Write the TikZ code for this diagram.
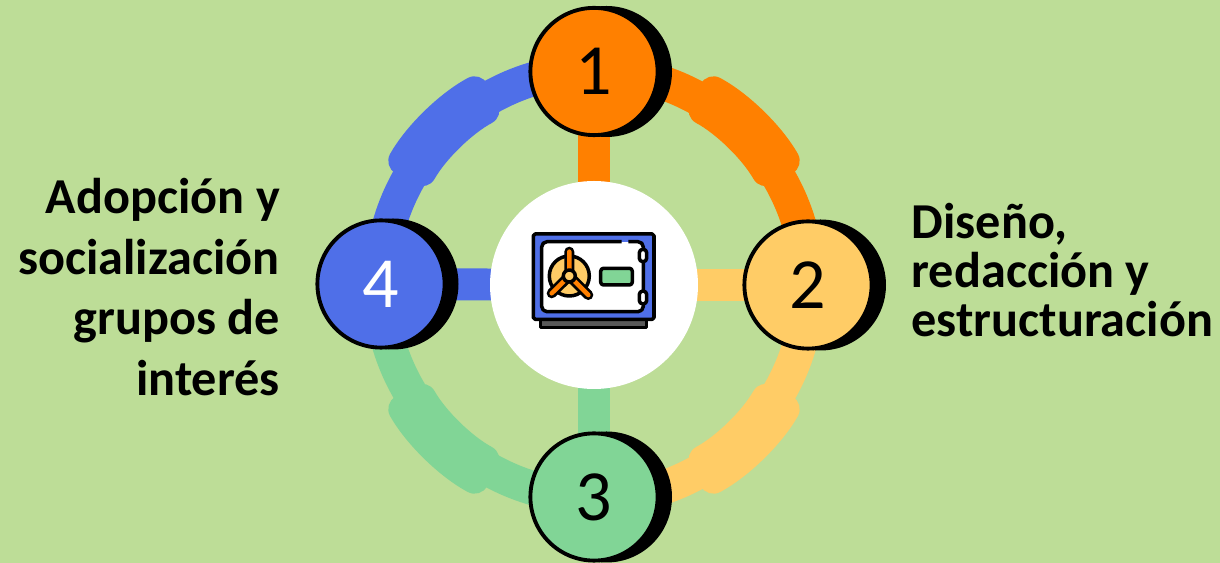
\documentclass[tikz,border=0pt]{standalone}
\usepackage{fontspec}
\setmainfont{Carlito}
\usetikzlibrary{calc}
\definecolor{fondo}{HTML}{BDDD97}
\definecolor{naranja}{HTML}{FF8000}
\definecolor{amarillo}{HTML}{FFCC66}
\definecolor{verde}{HTML}{81D596}
\definecolor{azul}{HTML}{4F6FE8}

\begin{document}
\begin{tikzpicture}[
	ring/.style={line width=9.7pt},
	spoke/.style={line width=9.1pt},
	thick seg/.style={rounded corners=4pt},
	shade disc/.style={circle,fill=black,inner sep=0pt,outer sep=0pt,minimum size=1.31cm},
	num/.style={circle,draw=black,line width=1.1pt,inner sep=0pt,minimum size=1.272cm,font=\fontsize{20.5}{24}\selectfont},
	lbl/.style={font=\fontsize{14.3}{13.9}\selectfont\bfseries,inner sep=0pt},
	icon/.style={draw=black,line width=1pt,line join=round}]
	\useasboundingbox (0,0) rectangle (12.2,5.63);
	\fill[fondo] (0,0) rectangle (12.2,5.63);
	%
	\coordinate (m) at (5.94,2.78);
	\coordinate (p1) at (5.94,4.915);
	\coordinate (p2) at (8.08,2.78);
	\coordinate (p3) at (5.94,0.66);
	\coordinate (p4) at (3.81,2.79);
	%
	\draw[ring,naranja] (p1) arc[start angle=90,end angle=0,radius=2.14];
	\draw[ring,amarillo] (p2) arc[start angle=0,end angle=-90,radius=2.14];
	\draw[ring,verde] (p3) arc[start angle=-90,end angle=-180,radius=2.14];
	\draw[ring,azul] (p4) arc[start angle=180,end angle=90,radius=2.14];
	%
	\fill[thick seg,naranja] ($(m)+(62:2.42)$) arc[start angle=62,end angle=29.4,radius=2.42] -- ($(m)+(29.4:1.91)$) arc[start angle=29.4,end angle=62,radius=1.91] -- cycle;
	\fill[thick seg,amarillo] ($(m)+(-62:2.42)$) arc[start angle=-62,end angle=-29.4,radius=2.42] -- ($(m)+(-29.4:1.91)$) arc[start angle=-29.4,end angle=-62,radius=1.91] -- cycle;
	\fill[thick seg,verde] ($(m)+(242:2.42)$) arc[start angle=242,end angle=209.4,radius=2.42] -- ($(m)+(209.4:1.91)$) arc[start angle=209.4,end angle=242,radius=1.91] -- cycle;
	\fill[thick seg,azul] ($(m)+(118:2.42)$) arc[start angle=118,end angle=150.6,radius=2.42] -- ($(m)+(150.6:1.91)$) arc[start angle=150.6,end angle=118,radius=1.91] -- cycle;
	%
	\draw[spoke,naranja] (m) -- (p1);
	\draw[spoke,amarillo] (m) -- (p2);
	\draw[spoke,verde] (m) -- (p3);
	\draw[spoke,azul] (m) -- (p4);
	%
	\node[circle,fill=white,inner sep=0pt,minimum size=2.08cm] (centro) at (m) {};
	\node[shade disc] (s1) at (6.065,4.915) {};
	\node[shade disc] (s2) at (8.205,2.78) {};
	\node[shade disc] (s3) at (6.065,0.66) {};
	\node[shade disc] (s4) at (3.93,2.79) {};
	\node[num,fill=naranja] (n1) at (p1) {1};
	\node[num,fill=amarillo] (n2) at (p2) {2};
	\node[num,fill=verde] (n3) at (p3) {3};
	\node[num,fill=azul,text=white] (n4) at (p4) {4};
	%
	\node[lbl,anchor=east,align=right] (izq) at (2.805,2.76) {Adopción y\\[0.12cm]socialización\\[0.12cm]grupos de\\[0.12cm]interés};
	\node[lbl,anchor=west,align=left] (der) at (9.11,2.93) {Diseño,\\redacción y\\estructuración};
	%
	\draw[icon,fill=black!65] (5.407,2.437) rectangle (6.467,2.357);
	\draw[icon,fill=azul,rounded corners=0.5pt] (5.333,3.29) rectangle (6.54,2.437);
	\fill[white] (5.417,3.213) rectangle (6.433,2.513);
	\draw[icon,rounded corners=1.5pt] (6.217,3.213) -- (5.417,3.213) -- (5.417,2.513) -- (6.433,2.513) -- (6.433,3.213) -- (6.283,3.213);
	\draw[icon,fill=white,rounded corners=1pt] (6.393,3.137) rectangle (6.467,3.013);
	\draw[icon,fill=white,rounded corners=1pt] (6.393,2.72) rectangle (6.467,2.59);
	\draw[icon,fill=verde,rounded corners=0.8pt] (6.007,2.947) rectangle (6.323,2.78);
	\draw[icon,fill=amarillo] (5.693,2.87) circle (0.2);
	\draw[line width=2.85pt,line cap=round] (5.693,3.113) -- (5.693,2.87) (5.517,2.697) -- (5.693,2.87) -- (5.883,2.68);
	\draw[line width=1.3pt,naranja,line cap=round] (5.693,3.113) -- (5.693,2.87) (5.517,2.697) -- (5.693,2.87) -- (5.883,2.68);
	\draw[icon,fill=amarillo] (5.693,2.87) circle (0.06);
\end{tikzpicture}
\end{document}
